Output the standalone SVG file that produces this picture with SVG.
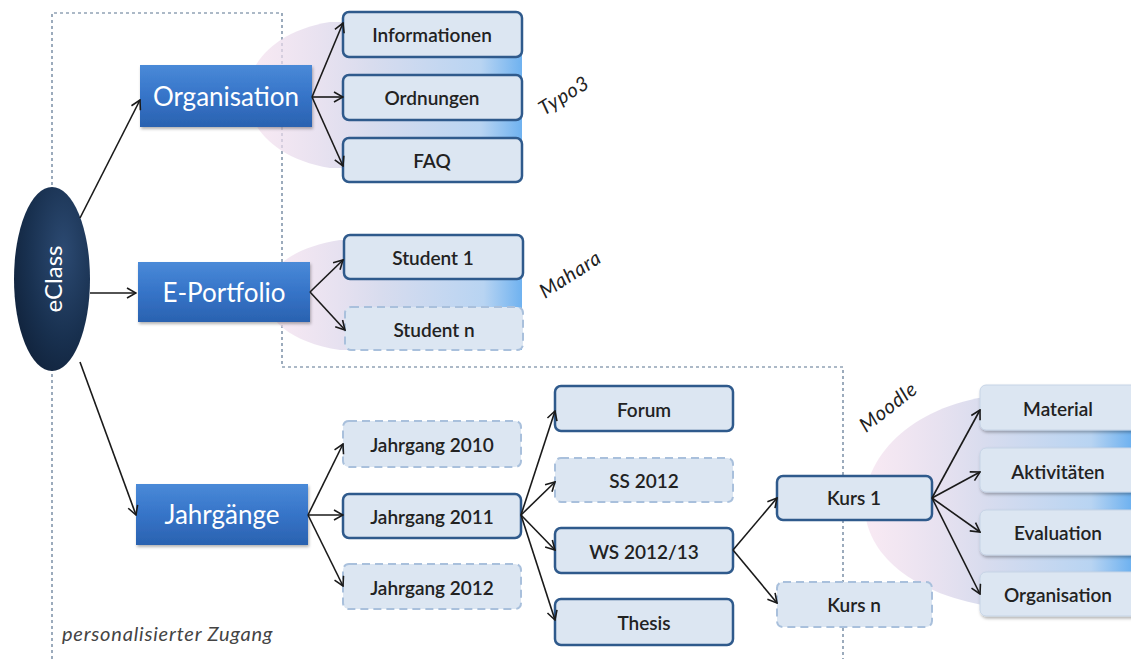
<svg xmlns="http://www.w3.org/2000/svg" width="1131" height="659" viewBox="0 0 1131 659">
<defs>
<linearGradient id="blue" x1="0" y1="0" x2="0" y2="1">
<stop offset="0" stop-color="#4a8ad8"/><stop offset="0.5" stop-color="#3674c8"/><stop offset="1" stop-color="#2a62b0"/>
</linearGradient>
<radialGradient id="ell" cx="0.65" cy="0.35" r="0.8">
<stop offset="0" stop-color="#2c4a72"/><stop offset="0.6" stop-color="#18304f"/><stop offset="1" stop-color="#0f2038"/>
</radialGradient>
<linearGradient id="blob" x1="0" y1="0" x2="1" y2="0">
<stop offset="0" stop-color="#f4dcec" stop-opacity="0.6"/><stop offset="0.45" stop-color="#d8dcee"/><stop offset="0.85" stop-color="#b8d4f2"/><stop offset="1" stop-color="#6fb2f0"/>
</linearGradient>
<marker id="ah" viewBox="0 0 12 12" refX="11" refY="6" markerWidth="12" markerHeight="12" markerUnits="userSpaceOnUse" orient="auto">
<polyline points="2,1 11,6 2,11" fill="none" stroke="#1a1a1a" stroke-width="1.6"/>
</marker>
<filter id="sh" x="-10%" y="-10%" width="125%" height="130%"><feDropShadow dx="1" dy="2" stdDeviation="1.5" flood-color="#000" flood-opacity="0.3"/></filter>
</defs>
<style>
.t{font-family:Lato,"Open Sans","Liberation Sans",sans-serif;}
.main rect{fill:url(#blue);filter:url(#sh);}
.main text{fill:#fff;font-size:26px;text-anchor:middle;dominant-baseline:central;}
.box rect{fill:#dce6f2;stroke:#2f5a8c;stroke-width:2.5;}
.dash rect{fill:#dce6f2;stroke:#a9c0dc;stroke-width:2;stroke-dasharray:8 5;}
.soft rect{fill:#dce6f2;stroke:#c6d4e6;stroke-width:1;filter:url(#sh);}
.box text,.dash text,.soft text{fill:#222;font-size:19px;font-weight:600;text-anchor:middle;dominant-baseline:central;}
.lbl{font-size:20px;font-style:italic;fill:#222;letter-spacing:0.8px;}
.frame{fill:none;stroke:#5a7490;stroke-width:1.2;stroke-dasharray:3 3;}
#connectors line{stroke:#1a1a1a;stroke-width:1.6;marker-end:url(#ah);}
</style>
<rect width="1131" height="659" fill="#fff"/>
<g id="frame">
<polyline class="frame" points="52,659 52,13 282,13 282,367 843,367 843,659"/>
</g>
<g id="blobs">
<path d="M522,22 L330,22 C220,40 220,150 330,168 L522,168 Z" fill="url(#blob)"/>
<path d="M522,240 L340,240 C240,255 240,335 340,350 L522,350 Z" fill="url(#blob)"/>
<path d="M1131,395 L1000,395 C840,410 800,580 1000,608 L1131,608 Z" fill="url(#blob)"/>
</g>
<g id="node-eclass">
<ellipse cx="52" cy="279" rx="38" ry="92" fill="url(#ell)"/>
<text class="t" x="52" y="279" transform="rotate(-90 52 279)" fill="#fff" font-size="24" text-anchor="middle" dominant-baseline="central">eClass</text>
</g>
<g id="node-organisation" class="main t"><rect x="140" y="65" width="172" height="62"/><text x="226" y="96">Organisation</text></g>
<g id="node-eportfolio" class="main t"><rect x="138" y="262" width="172" height="60"/><text x="224" y="292">E-Portfolio</text></g>
<g id="node-jahrgaenge" class="main t"><rect x="136" y="484" width="172" height="61"/><text x="222" y="514">Jahrgänge</text></g>

<g id="node-informationen" class="box t"><rect x="343" y="12" width="179" height="45" rx="6"/><text x="432" y="34">Informationen</text></g>
<g id="node-ordnungen" class="box t"><rect x="343" y="75" width="179" height="45" rx="6"/><text x="432" y="97">Ordnungen</text></g>
<g id="node-faq" class="box t"><rect x="343" y="138" width="179" height="44" rx="6"/><text x="432" y="160">FAQ</text></g>
<g id="node-student1" class="box t"><rect x="344" y="235" width="179" height="44" rx="6"/><text x="433" y="257">Student 1</text></g>
<g id="node-studentn" class="dash t"><rect x="345" y="307" width="178" height="43" rx="6"/><text x="434" y="329">Student  n</text></g>

<g id="node-j2010" class="dash t"><rect x="343" y="421" width="178" height="46" rx="6"/><text x="432" y="444">Jahrgang 2010</text></g>
<g id="node-j2011" class="box t"><rect x="343" y="494" width="178" height="44" rx="6"/><text x="432" y="516">Jahrgang 2011</text></g>
<g id="node-j2012" class="dash t"><rect x="343" y="564" width="178" height="45" rx="6"/><text x="432" y="587">Jahrgang 2012</text></g>

<g id="node-forum" class="box t"><rect x="555" y="386" width="178" height="45" rx="6"/><text x="644" y="409">Forum</text></g>
<g id="node-ss2012" class="dash t"><rect x="555" y="458" width="178" height="44" rx="6"/><text x="644" y="480">SS 2012</text></g>
<g id="node-ws2012" class="box t"><rect x="555" y="528" width="178" height="45" rx="6"/><text x="644" y="551">WS 2012/13</text></g>
<g id="node-thesis" class="box t"><rect x="555" y="599" width="178" height="46" rx="6"/><text x="644" y="622">Thesis</text></g>

<g id="node-kurs1" class="box t"><rect x="777" y="476" width="155" height="44" rx="6"/><text x="854" y="497">Kurs 1</text></g>
<g id="node-kursn" class="dash t"><rect x="777" y="582" width="155" height="45" rx="6"/><text x="854" y="604">Kurs n</text></g>

<g id="node-material" class="soft t"><rect x="980" y="385" width="160" height="45" rx="6"/><text x="1058" y="408">Material</text></g>
<g id="node-aktivitaeten" class="soft t"><rect x="980" y="448" width="160" height="44" rx="6"/><text x="1058" y="471">Aktivitäten</text></g>
<g id="node-evaluation" class="soft t"><rect x="980" y="510" width="160" height="45" rx="6"/><text x="1058" y="532">Evaluation</text></g>
<g id="node-organisation2" class="soft t"><rect x="980" y="572" width="160" height="44" rx="6"/><text x="1058" y="594">Organisation</text></g>

<g id="labels" class="t">
<text class="lbl" x="544" y="116" transform="rotate(-32 544 116)">Typo3</text>
<text class="lbl" x="545" y="299" transform="rotate(-33 545 299)">Mahara</text>
<text class="lbl" x="866" y="433" transform="rotate(-38 866 433)">Moodle</text>
<text class="lbl" x="62" y="641" style="fill:#444">personalisierter Zugang</text>
</g>

<g id="connectors">
<line x1="80" y1="218" x2="140" y2="100"/>
<line x1="90" y1="293" x2="136" y2="293"/>
<line x1="80" y1="362" x2="136" y2="515"/>
<line x1="312" y1="97" x2="343" y2="23"/>
<line x1="312" y1="97" x2="343" y2="97"/>
<line x1="312" y1="97" x2="343" y2="166"/>
<line x1="310" y1="292" x2="343" y2="260"/>
<line x1="310" y1="292" x2="345" y2="330"/>
<line x1="308" y1="515" x2="343" y2="444"/>
<line x1="308" y1="515" x2="343" y2="515"/>
<line x1="308" y1="515" x2="343" y2="586"/>
<line x1="521" y1="515" x2="555" y2="411"/>
<line x1="521" y1="515" x2="555" y2="482"/>
<line x1="521" y1="515" x2="555" y2="550"/>
<line x1="521" y1="515" x2="555" y2="620"/>
<line x1="733" y1="550" x2="777" y2="498"/>
<line x1="733" y1="550" x2="777" y2="603"/>
<line x1="932" y1="498" x2="980" y2="410"/>
<line x1="932" y1="498" x2="980" y2="472"/>
<line x1="932" y1="498" x2="980" y2="532"/>
<line x1="932" y1="498" x2="980" y2="594"/>
</g>
</svg>
